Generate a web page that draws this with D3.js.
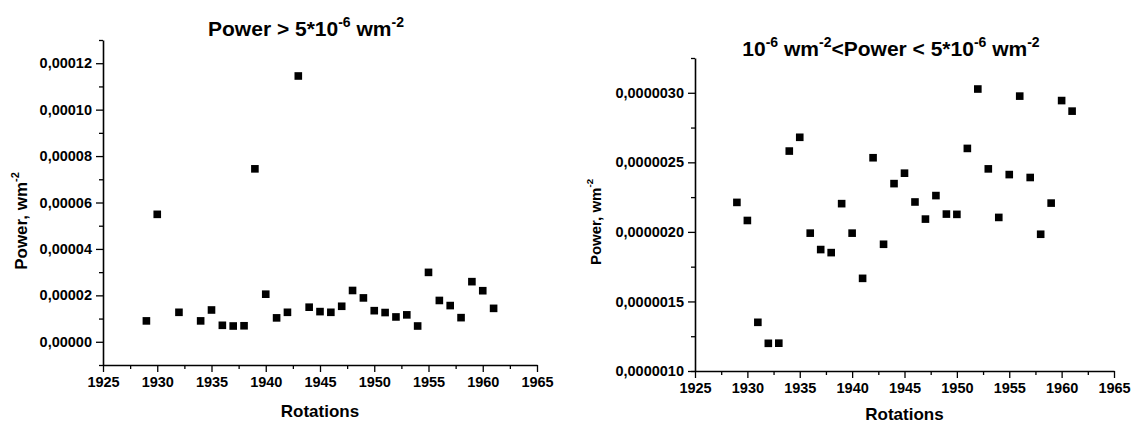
<!DOCTYPE html>
<html>
<head>
<meta charset="utf-8">
<script src="https://cdn.jsdelivr.net/npm/d3@7"></script>
<style>
  body { margin: 0; background: #fff; }
  text { font-family: "Liberation Sans", Arial, sans-serif; font-weight: bold; fill: #000; }
</style>
</head>
<body>
<div id="chart"></div>
<script>
// ---- data ----
var xTicks = [1925, 1930, 1935, 1940, 1945, 1950, 1955, 1960, 1965];

// panel 1: Power > 5*10^-6
var highYears = [1929, 1930, 1932, 1934, 1935, 1936, 1937, 1938, 1939, 1940, 1941, 1942, 1943, 1944, 1945, 1946,
  1947, 1948, 1949, 1950, 1951, 1952, 1953, 1954, 1955, 1956, 1957, 1958, 1959, 1960, 1961];
var highPower = [0.0000090, 0.0000549, 0.0000127, 0.0000090, 0.0000137, 0.0000071, 0.0000068, 0.0000069, 0.0000745,
  0.0000205, 0.0000103, 0.0000127, 0.0001145, 0.0000149, 0.0000130, 0.0000127, 0.0000153, 0.0000221, 0.0000189,
  0.0000134, 0.0000126, 0.0000107, 0.0000116, 0.0000068, 0.0000299, 0.0000178, 0.0000156, 0.0000104, 0.0000259,
  0.0000220, 0.0000144];
var highYTicks = [0, 0.00002, 0.00004, 0.00006, 0.00008, 0.00010, 0.00012];

// panel 2: 10^-6 < Power < 5*10^-6
var lowYears = [1929, 1930, 1931, 1932, 1933, 1934, 1935, 1936, 1937, 1938, 1939, 1940, 1941, 1942, 1943, 1944, 1945,
  1946, 1947, 1948, 1949, 1950, 1951, 1952, 1953, 1954, 1955, 1956, 1957, 1958, 1959, 1960, 1961];
var lowPower = [2.212e-6, 2.082e-6, 1.350e-6, 1.199e-6, 1.200e-6, 2.581e-6, 2.680e-6, 1.991e-6, 1.873e-6, 1.851e-6,
  2.203e-6, 1.991e-6, 1.666e-6, 2.533e-6, 1.911e-6, 2.347e-6, 2.422e-6, 2.215e-6, 2.092e-6, 2.261e-6, 2.128e-6,
  2.126e-6, 2.600e-6, 3.027e-6, 2.453e-6, 2.104e-6, 2.412e-6, 2.976e-6, 2.391e-6, 1.983e-6, 2.207e-6, 2.944e-6,
  2.868e-6];
var lowYTicks = [0.0000010, 0.0000015, 0.0000020, 0.0000025, 0.0000030];

// comma decimal like the original
var locale = d3.formatLocale({ decimal: ",", thousands: ".", grouping: [3], currency: ["", ""] });

var svg = d3.select("#chart")
  .append("svg")
  .attr("width", 1133)
  .attr("height", 424);

function drawPanel(opt) {
  var g = svg.append("g");

  var x = d3.scaleLinear().domain([1925, 1965]).range([opt.left, opt.right]);
  var y = d3.scaleLinear().domain(opt.yDomain).range([opt.bottom, opt.top]);

  // minor ticks halfway between majors
  var xMinor = [];
  for (var i = 0; i < xTicks.length - 1; i++) xMinor.push((xTicks[i] + xTicks[i + 1]) / 2);
  var yMinor = [];
  for (var j = 0; j < opt.yTicks.length - 1; j++) yMinor.push((opt.yTicks[j] + opt.yTicks[j + 1]) / 2);
  yMinor = yMinor.concat(opt.yDomain);

  g.append("g")
    .attr("transform", "translate(0," + opt.bottom + ")")
    .call(d3.axisBottom(x).tickValues(xMinor).tickSize(4).tickFormat(""))
    .call(a => a.select(".domain").remove());
  g.append("g")
    .attr("transform", "translate(" + opt.left + ",0)")
    .call(d3.axisLeft(y).tickValues(yMinor).tickSize(4).tickFormat(""))
    .call(a => a.select(".domain").remove());

  var xAxis = g.append("g")
    .attr("transform", "translate(0," + opt.bottom + ")")
    .call(d3.axisBottom(x).tickValues(xTicks).tickSize(7).tickSizeOuter(0).tickPadding(5).tickFormat(d3.format("d")));
  xAxis.selectAll("text").style("font-size", "14.5px");

  var yAxis = g.append("g")
    .attr("transform", "translate(" + opt.left + ",0)")
    .call(d3.axisLeft(y).tickValues(opt.yTicks).tickSize(7).tickSizeOuter(0).tickPadding(opt.yPad)
      .tickFormat(locale.format(opt.fmt)));
  yAxis.selectAll("text").style("font-size", "14.5px");

  g.selectAll(".domain").attr("stroke-width", 1.6);
  g.selectAll(".tick line").attr("stroke-width", 1.3);

  // points
  g.append("g")
    .selectAll("path")
    .data(opt.xs.map((d, k) => [d, opt.ys[k]]))
    .enter()
    .append("path")
    .attr("d", d3.symbol().type(d3.symbolSquare).size(58))
    .attr("transform", d => "translate(" + x(d[0]) + "," + y(d[1]) + ")")
    .attr("fill", "#000");

  // x label
  g.append("text")
    .attr("x", (opt.left + opt.right) / 2)
    .attr("y", opt.xLabelY)
    .attr("text-anchor", "middle")
    .style("font-size", "17px")
    .text("Rotations");

  // y label
  var yl = g.append("text")
    .attr("transform", "translate(" + opt.yLabelX + "," + opt.yLabelY + ") rotate(-90)")
    .attr("text-anchor", "middle")
    .style("font-size", opt.yLabelSize + "px");
  yl.append("tspan").text("Power, wm");
  yl.append("tspan").attr("dy", -8).style("font-size", (opt.yLabelSize * 0.65) + "px").text("-2");

  // title
  var t = g.append("text")
    .attr("x", opt.titleX)
    .attr("y", opt.titleY)
    .attr("text-anchor", "middle")
    .style("font-size", "21px");
  opt.title.forEach(function (p) {
    if (p.sup) {
      t.append("tspan").attr("dy", -9).style("font-size", "14px").text(p.sup);
    } else {
      t.append("tspan").attr("dy", p.after ? 9 : 0).text(p.txt);
    }
  });
}

drawPanel({
  left: 103, right: 537, top: 40, bottom: 365,
  yDomain: [-0.00001, 0.00013],
  yTicks: highYTicks, fmt: ".5f", yPad: 4,
  xs: highYears, ys: highPower,
  xLabelY: 417, yLabelX: 27, yLabelY: 221, yLabelSize: 17,
  titleX: 306, titleY: 36,
  title: [{ txt: "Power > 5*10" }, { sup: "-6" }, { txt: " wm", after: true }, { sup: "-2" }]
});

drawPanel({
  left: 695, right: 1114, top: 58, bottom: 371,
  yDomain: [0.0000010, 0.00000325],
  yTicks: lowYTicks, fmt: ".7f", yPad: 4,
  xs: lowYears, ys: lowPower,
  xLabelY: 420, yLabelX: 601, yLabelY: 222, yLabelSize: 15,
  titleX: 891, titleY: 56,
  title: [{ txt: "10" }, { sup: "-6" }, { txt: " wm", after: true }, { sup: "-2" }, { txt: "<Power < 5*10", after: true },
    { sup: "-6" }, { txt: " wm", after: true }, { sup: "-2" }]
});
</script>
</body>
</html>
